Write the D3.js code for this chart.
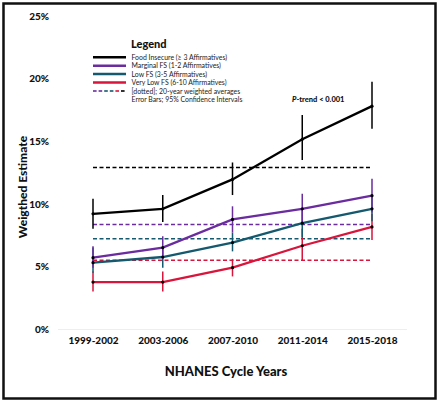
<!DOCTYPE html>
<html><head><meta charset="utf-8">
<script src="https://cdn.jsdelivr.net/npm/d3@7"></script>
<style>body{margin:0;background:#fff}svg{display:block}text{font-family:Lato,"Open Sans",sans-serif}</style>
</head><body><svg id="c" width="440" height="403"></svg>
<script>
const categories = ["1999-2002","2003-2006","2007-2010","2011-2014","2015-2018"];
const seriesNames = ["Food Insecure (≥ 3 Affirmatives)","Marginal FS (1-2 Affirmatives)","Low FS (3-5 Affirmatives)","Very Low FS (6-10 Affirmatives)"];
const foodInsecure = [9.2, 9.6, 11.95, 15.15, 17.8];
const foodInsecureLo = [8.0, 8.55, 10.7, 13.5, 16.0];
const foodInsecureHi = [10.4, 10.7, 13.3, 17.1, 19.75];
const marginal = [5.7, 6.5, 8.75, 9.6, 10.65];
const marginalLo = [4.9, 5.6, 7.7, 8.4, 9.3];
const marginalHi = [6.6, 7.4, 9.8, 10.8, 12.0];
const lowFS = [5.3, 5.75, 6.9, 8.45, 9.6];
const lowFSLo = [4.5, 4.9, 6.2, 7.3, 8.6];
const lowFSHi = [6.5, 6.6, 7.7, 9.6, 10.6];
const veryLow = [3.75, 3.75, 4.9, 6.65, 8.15];
const veryLowLo = [3.0, 3.0, 4.2, 5.5, 7.1];
const veryLowHi = [4.6, 4.6, 5.6, 8.0, 9.2];
const averages = [12.9, 8.35, 7.2, 5.5];
const yTicks = [0, 5, 10, 15, 20, 25];
const colors = ["#000000", "#6a2c9e", "#15596f", "#d8153b"];

const series = [
  {name: seriesNames[0], v: foodInsecure, lo: foodInsecureLo, hi: foodInsecureHi, avg: averages[0], c: colors[0]},
  {name: seriesNames[1], v: marginal, lo: marginalLo, hi: marginalHi, avg: averages[1], c: colors[1]},
  {name: seriesNames[2], v: lowFS, lo: lowFSLo, hi: lowFSHi, avg: averages[2], c: colors[2]},
  {name: seriesNames[3], v: veryLow, lo: veryLowLo, hi: veryLowHi, avg: averages[3], c: colors[3]}
];

const svg = d3.select("#c");
const x = d3.scalePoint().domain(categories).range([93, 372]);
const y = d3.scaleLinear().domain([0, 25]).range([329, 16]);

// frame
svg.append("rect").attr("x", 3.5).attr("y", 3.5).attr("width", 432).attr("height", 395)
  .attr("fill", "none").attr("stroke", "#111").attr("stroke-width", 2.5);

// baseline
svg.append("line").attr("x1", 58).attr("x2", 407).attr("y1", y(0)+0.5).attr("y2", y(0)+0.5)
  .attr("stroke", "#eee").attr("stroke-width", 1);

// y axis
const yAxis = d3.axisLeft(y).tickValues(yTicks).tickFormat(d => d + "%").tickSize(0).tickPadding(0);
const gy = svg.append("g").attr("transform", "translate(49,0)").call(yAxis);
gy.select(".domain").remove();
gy.selectAll("text").attr("font-size", 10).attr("font-weight", 900).attr("fill", "#111").attr("font-family", "Lato");

// x axis
const xAxis = d3.axisBottom(x).tickSize(0).tickPadding(0);
const gx = svg.append("g").attr("transform", "translate(0,337)").call(xAxis);
gx.select(".domain").remove();
gx.selectAll("text").attr("font-size", 10).attr("font-weight", 900).attr("fill", "#111").attr("font-family", "Lato");

svg.append("text").attr("x", 226).attr("y", 376).attr("text-anchor", "middle")
  .attr("font-size", 13).attr("font-weight", 900).attr("fill", "#111").text("NHANES Cycle Years");
svg.append("text").attr("transform", "translate(27,187) rotate(-90)").attr("text-anchor", "middle")
  .attr("font-size", 12).attr("font-weight", 900).attr("fill", "#111").text("Weigthed Estimate");

// averages dashed
series.forEach(s => {
  svg.append("line").attr("x1", x(categories[0])).attr("x2", x(categories[4]))
    .attr("y1", y(s.avg)).attr("y2", y(s.avg))
    .attr("stroke", s.c).attr("stroke-width", 1.5).attr("stroke-dasharray", "4,2.5");
});

// series (draw from bottom)
const line = d3.line().x((d, i) => x(categories[i])).y(d => y(d));
[...series].reverse().forEach(s => {
  const g = svg.append("g");
  g.selectAll("line.err").data(categories).join("line")
    .attr("x1", d => x(d)).attr("x2", d => x(d))
    .attr("y1", (d, i) => y(s.lo[i])).attr("y2", (d, i) => y(s.hi[i]))
    .attr("stroke", s.c).attr("stroke-width", 1.5);
  g.append("path").datum(s.v).attr("d", line).attr("fill", "none")
    .attr("stroke", s.c).attr("stroke-width", 2.3);
});
series.forEach(s => {
  svg.append("g").selectAll("circle").data(s.v).join("circle")
    .attr("cx", (d, i) => x(categories[i])).attr("cy", d => y(d)).attr("r", 1.6).attr("fill", "#000");
});

// legend
const lg = svg.append("g");
lg.append("text").attr("x", 131).attr("y", 48).attr("font-size", 11).attr("font-weight", 900)
  .attr("fill", "#111").text("Legend");
const rowY = [57.3, 65.7, 74, 82.5, 91, 99.3];
const fs = 6.9;
series.forEach((s, i) => {
  lg.append("line").attr("x1", 93).attr("x2", 126).attr("y1", rowY[i]).attr("y2", rowY[i])
    .attr("stroke", s.c).attr("stroke-width", 2.5);
  lg.append("text").attr("x", 131.5).attr("y", rowY[i] + 2.5).attr("font-size", fs)
    .attr("fill", "#222").text(s.name);
});
const dashCols = [colors[1], colors[1], colors[2], colors[2], colors[3], colors[0]];
dashCols.forEach((c, k) => {
  lg.append("line").attr("x1", 93 + k * 5.6).attr("x2", 93 + k * 5.6 + 3.6)
    .attr("y1", rowY[4]).attr("y2", rowY[4]).attr("stroke", c).attr("stroke-width", 1.6);
});
lg.append("text").attr("x", 131.5).attr("y", rowY[4] + 2.5).attr("font-size", fs)
  .attr("fill", "#222").text("[dotted]; 20-year weighted averages");
lg.append("text").attr("x", 131.5).attr("y", rowY[5] + 2.5).attr("font-size", fs)
  .attr("fill", "#222").text("Error Bars; 95% Confidence Intervals");

// p-trend
const pt = svg.append("text").attr("x", 292).attr("y", 102).attr("font-size", 7.5)
  .attr("font-weight", 900).attr("fill", "#111");
pt.append("tspan").attr("font-style", "italic").text("P");
pt.append("tspan").text("-trend < 0.001");
</script></body></html>
